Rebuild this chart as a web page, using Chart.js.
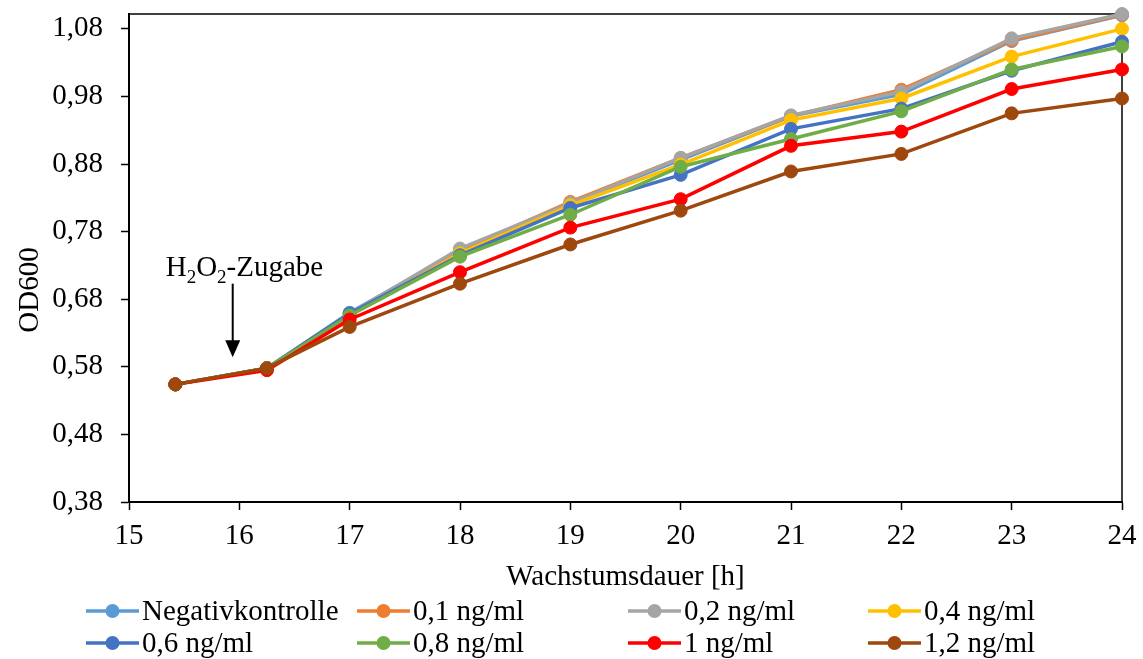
<!DOCTYPE html>
<html>
<head>
<meta charset="utf-8">
<script src="https://cdn.jsdelivr.net/npm/chart.js@4.4.0/dist/chart.umd.min.js"></script>
<style>
  html, body { margin: 0; padding: 0; background: #ffffff; }
  #wrap { width: 1143px; height: 659px; }
</style>
</head>
<body>
<div id="wrap"><canvas id="chart" width="1143" height="659"></canvas></div>
<script>
// Messzeitpunkte (Wachstumsdauer in h)
const hours = [15.42, 16.25, 17, 18, 19, 20, 21, 22, 23, 24];

// OD600-Werte je Ansatz
const negativkontrolle = [0.554, 0.578, 0.660, 0.752, 0.822, 0.886, 0.951, 0.983, 1.062, 1.100];
const ng01 = [0.554, 0.578, 0.658, 0.752, 0.824, 0.889, 0.951, 0.990, 1.063, 1.101];
const ng02 = [0.554, 0.578, 0.658, 0.755, 0.822, 0.889, 0.952, 0.987, 1.066, 1.102];
const ng04 = [0.554, 0.578, 0.656, 0.748, 0.819, 0.879, 0.945, 0.977, 1.039, 1.080];
const ng06 = [0.554, 0.578, 0.659, 0.745, 0.815, 0.864, 0.932, 0.962, 1.018, 1.061];
const ng08 = [0.554, 0.578, 0.656, 0.743, 0.805, 0.876, 0.917, 0.958, 1.020, 1.054];
const ng1  = [0.554, 0.575, 0.650, 0.720, 0.786, 0.828, 0.907, 0.928, 0.991, 1.020];
const ng12 = [0.554, 0.578, 0.639, 0.703, 0.761, 0.811, 0.869, 0.895, 0.955, 0.977];

const seriesNames = ['Negativkontrolle', '0,1 ng/ml', '0,2 ng/ml', '0,4 ng/ml',
                     '0,6 ng/ml', '0,8 ng/ml', '1 ng/ml', '1,2 ng/ml'];
const seriesValues = [negativkontrolle, ng01, ng02, ng04, ng06, ng08, ng1, ng12];
const seriesColors = ['#5B9BD5', '#ED7D31', '#A5A5A5', '#FFC000',
                      '#4472C4', '#70AD47', '#FF0000', '#9E480E'];

// Achsenbeschriftungen
const xTicks = [15, 16, 17, 18, 19, 20, 21, 22, 23, 24];
const yTicks = [0.38, 0.48, 0.58, 0.68, 0.78, 0.88, 0.98, 1.08];

// Zeitpunkt der H2O2-Zugabe
const zugabeHour = 15.94;

const FONT = "'Liberation Serif', 'Times New Roman', serif";
const FS = 29;

const datasets = seriesValues.map((vals, i) => ({
  label: seriesNames[i],
  data: hours.map((h, k) => ({ x: h, y: vals[k] })),
  borderColor: seriesColors[i],
  backgroundColor: seriesColors[i],
  pointBackgroundColor: seriesColors[i],
  pointBorderColor: seriesColors[i],
  borderWidth: 3.5,
  pointRadius: 6.5,
  pointBorderWidth: 1,
  tension: 0,
  clip: false,
  order: seriesValues.length - i   // later series drawn on top
}));

// Rahmen oben/rechts um den Plotbereich
const framePlugin = {
  id: 'frame',
  beforeDatasetsDraw(chart) {
    const { ctx, chartArea: a } = chart;
    ctx.save();
    ctx.strokeStyle = '#000';
    ctx.lineWidth = 1.5;
    ctx.beginPath();
    ctx.moveTo(a.left, a.top);
    ctx.lineTo(a.right, a.top);
    ctx.lineTo(a.right, a.bottom);
    ctx.stroke();
    ctx.restore();
  }
};

// Pfeil mit Beschriftung "H2O2-Zugabe"
const zugabePlugin = {
  id: 'zugabe',
  afterDatasetsDraw(chart) {
    const { ctx, scales: { x, y } } = chart;
    const ax = x.getPixelForValue(zugabeHour);
    const yStart = y.getPixelForValue(0.703);
    const yTip = y.getPixelForValue(0.594);
    const base = y.getPixelForValue(0.714);
    ctx.save();
    ctx.fillStyle = '#000';
    ctx.strokeStyle = '#000';
    // Text mit tiefgestellten Ziffern
    let tx = ax - 67;
    const parts = [['H', false], ['2', true], ['O', false], ['2', true], ['-Zugabe', false]];
    ctx.textBaseline = 'alphabetic';
    ctx.textAlign = 'left';
    for (const [t, sub] of parts) {
      ctx.font = (sub ? 19 : FS) + 'px ' + FONT;
      ctx.fillText(t, tx, sub ? base + 7 : base);
      tx += ctx.measureText(t).width;
    }
    // Pfeil
    ctx.lineWidth = 2;
    ctx.beginPath();
    ctx.moveTo(ax, yStart);
    ctx.lineTo(ax, yTip - 14);
    ctx.stroke();
    ctx.beginPath();
    ctx.moveTo(ax - 7.5, yTip - 17);
    ctx.lineTo(ax + 7.5, yTip - 17);
    ctx.lineTo(ax, yTip);
    ctx.closePath();
    ctx.fill();
    ctx.restore();
  }
};

// Y-Achsentitel und Legende
const textPlugin = {
  id: 'texts',
  afterDraw(chart) {
    const { ctx } = chart;
    ctx.save();
    ctx.fillStyle = '#000';
    ctx.font = FS + 'px ' + FONT;
    ctx.textAlign = 'center';
    ctx.textBaseline = 'middle';
    ctx.translate(30, 290);
    ctx.rotate(-Math.PI / 2);
    ctx.fillText('OD600', 0, 0);
    ctx.restore();

    const colX = [86, 357, 628, 868];
    const rowY = [611, 643];
    ctx.save();
    ctx.font = FS + 'px ' + FONT;
    ctx.textAlign = 'left';
    ctx.textBaseline = 'middle';
    chart.data.datasets.forEach((ds, i) => {
      const cx = colX[i % 4];
      const cy = rowY[Math.floor(i / 4)];
      ctx.strokeStyle = ds.borderColor;
      ctx.lineWidth = 3.5;
      ctx.beginPath();
      ctx.moveTo(cx, cy);
      ctx.lineTo(cx + 53, cy);
      ctx.stroke();
      ctx.fillStyle = ds.borderColor;
      ctx.beginPath();
      ctx.arc(cx + 26.5, cy, 7, 0, Math.PI * 2);
      ctx.fill();
      ctx.fillStyle = '#000';
      ctx.fillText(ds.label, cx + 56, cy + 1);
    });
    ctx.restore();
  }
};

new Chart(document.getElementById('chart'), {
  type: 'line',
  data: { datasets },
  plugins: [framePlugin, zugabePlugin, textPlugin],
  options: {
    responsive: false,
    animation: false,
    events: [],
    layout: { padding: { left: 0, right: 21, top: 14, bottom: 64 } },
    plugins: { legend: { display: false }, tooltip: { enabled: false } },
    scales: {
      x: {
        type: 'linear',
        min: 15,
        max: 24,
        afterBuildTicks: s => { s.ticks = xTicks.map(v => ({ value: v })); },
        afterFit: s => { s.height = 93; s.paddingLeft = 0; s.paddingRight = 0; },
        ticks: {
          color: '#000',
          font: { family: FONT, size: FS },
          padding: 9,
          maxRotation: 0,
          autoSkip: false,
          callback: v => String(v)
        },
        grid: { drawOnChartArea: false, drawTicks: true, tickLength: 8, tickColor: '#000', tickWidth: 1.5 },
        border: { display: true, color: '#000', width: 2 },
        title: {
          display: true,
          text: 'Wachstumsdauer [h]',
          color: '#000',
          font: { family: FONT, size: FS },
          padding: { top: 0, bottom: 0 }
        }
      },
      y: {
        type: 'linear',
        min: 0.38,
        max: 1.102,
        afterBuildTicks: s => { s.ticks = yTicks.map(v => ({ value: v })); },
        afterFit: s => { s.width = 129; s.paddingTop = 0; s.paddingBottom = 0; },
        ticks: {
          color: '#000',
          font: { family: FONT, size: FS },
          padding: 18,
          autoSkip: false,
          callback: v => v.toFixed(2).replace('.', ',')
        },
        grid: { drawOnChartArea: false, drawTicks: true, tickLength: 8, tickColor: '#000', tickWidth: 1.5 },
        border: { display: true, color: '#000', width: 2 }
      }
    }
  }
});
</script>
</body>
</html>
